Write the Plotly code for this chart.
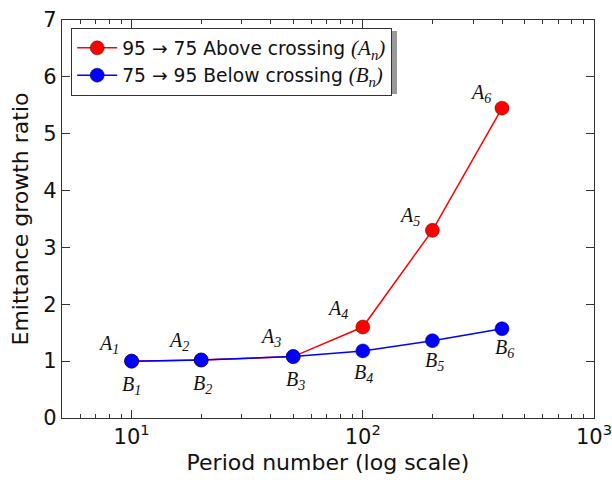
import plotly.graph_objects as go
import numpy as np

periods = [10, 20, 50, 100, 200, 400]
above = [1.0, 1.02, 1.08, 1.6, 3.3, 5.45]
below = [1.0, 1.02, 1.08, 1.18, 1.36, 1.57]
a_labels = ["A<sub>1</sub>", "A<sub>2</sub>", "A<sub>3</sub>", "A<sub>4</sub>", "A<sub>5</sub>", "A<sub>6</sub>"]
b_labels = ["B<sub>1</sub>", "B<sub>2</sub>", "B<sub>3</sub>", "B<sub>4</sub>", "B<sub>5</sub>", "B<sub>6</sub>"]
y_ticks = [0, 1, 2, 3, 4, 5, 6, 7]
x_ticks = [10, 100, 1000]
x_ticktext = ["10<sup>1</sup>", "10<sup>2</sup>", "10<sup>3</sup>"]
x_minor = [6, 7, 8, 9, 20, 30, 40, 50, 60, 70, 80, 90, 200, 300, 400, 500, 600, 700, 800, 900]

serif = "font-family:'Liberation Serif';font-style:italic;font-size:21px"
fig = go.Figure()
fig.add_trace(go.Scatter(
    x=periods, y=above, mode="lines+markers",
    name="95 \u2192 75 Above crossing <span style=\"" + serif + "\">(A<sub>n</sub>)</span>",
    line=dict(color="#ff0000", width=1.5),
    marker=dict(color="#ff0000", size=14, line=dict(color="#550000", width=0.5)),
))
fig.add_trace(go.Scatter(
    x=periods, y=below, mode="lines+markers",
    name="75 \u2192 95 Below crossing <span style=\"" + serif + "\">(B<sub>n</sub>)</span>",
    line=dict(color="#0000ff", width=1.5),
    marker=dict(color="#0000ff", size=14, line=dict(color="#000055", width=0.5)),
))

a_shift = [(-23, 17), (-23, 19), (-23, 19), (-25, 18), (-23, 14), (-22, 15)]
b_shift = [(0, -24), (1, -24), (2, -24), (1, -23), (2, -21), (2, -20)]
lab_font = dict(family="Liberation Serif", size=20, color="#111111")
for xv, yv, t, (dx, dy) in zip(periods, above, a_labels, a_shift):
    fig.add_annotation(x=np.log10(xv), y=yv, text="<i>" + t + "</i>", showarrow=False,
                       xshift=dx, yshift=dy, font=lab_font)
for xv, yv, t, (dx, dy) in zip(periods, below, b_labels, b_shift):
    fig.add_annotation(x=np.log10(xv), y=yv, text="<i>" + t + "</i>", showarrow=False,
                       xshift=dx, yshift=dy, font=lab_font)

# legend shadow
fig.add_shape(type="rect", xref="paper", yref="paper",
              x0=(75 - 62) / 532, x1=(397 - 62) / 532,
              y0=(418 - 94) / 398, y1=(418 - 31) / 398,
              fillcolor="#999999", line=dict(width=0), layer="above")

axis_common = dict(showline=True, linecolor="#333333", linewidth=1.2, mirror="ticks",
                   ticks="inside", tickcolor="#333333", ticklen=8, tickwidth=1,
                   showgrid=False, zeroline=False, automargin=False,
                   ticklabeloverflow="allow",
                   tickfont=dict(family="DejaVu Sans", size=21, color="#111111"))

fig.update_xaxes(type="log", range=[np.log10(5), 3], tickvals=x_ticks, ticktext=x_ticktext,
                 minor=dict(tickvals=x_minor, ticks="inside", ticklen=4, tickcolor="#333333", showgrid=False),
                 title=dict(text="Period number (log scale)", standoff=6,
                            font=dict(family="DejaVu Sans", size=22, color="#111111")),
                 **axis_common)
fig.update_yaxes(range=[0, 7], tickvals=y_ticks,
                 title=dict(text="Emittance growth ratio", standoff=8,
                            font=dict(family="DejaVu Sans", size=22, color="#111111")),
                 **axis_common)

fig.update_layout(
    width=612, height=480,
    margin=dict(l=62, r=18, t=20, b=62),
    paper_bgcolor="white", plot_bgcolor="white",
    legend=dict(x=(71 - 62) / 532, y=(418 - 28) / 398, xanchor="left", yanchor="top",
                bgcolor="white", bordercolor="#333333", borderwidth=1.2,
                font=dict(family="DejaVu Sans", size=18.7, color="#111111"),
                tracegroupgap=0, itemwidth=40),
    showlegend=True,
)

fig.write_html("out.html", config={"displayModeBar": False},
               post_script="document.body.style.margin='0';")
